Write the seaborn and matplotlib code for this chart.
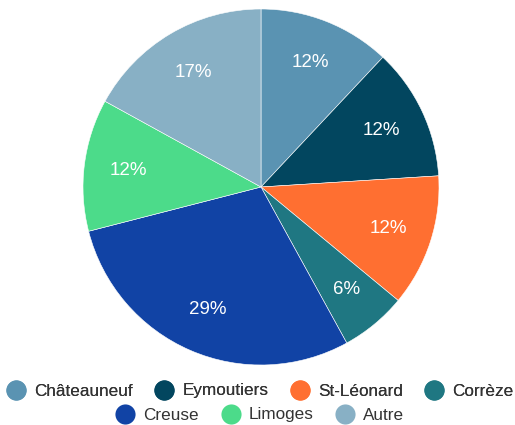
import matplotlib
matplotlib.use('Agg')
import matplotlib.pyplot as plt
from matplotlib.lines import Line2D
import seaborn as sns

LABELS = ['Châteauneuf', 'Eymoutiers', 'St-Léonard', 'Corrèze', 'Creuse', 'Limoges', 'Autre']
VALUES = [12, 12, 12, 6, 29, 12, 17]
COLORS = ['#5a93b2', '#02465f', '#ff6f31', '#1f7782', '#1143a5', '#4cdb8a', '#88b0c5']

sns.set_theme(style='white')
plt.rcParams['font.family'] = ['Liberation Sans', 'DejaVu Sans']
palette = sns.color_palette(COLORS)

W, H = 515, 425
fig = plt.figure(figsize=(W / 100, H / 100), dpi=100)
cx, cy, r = 261, 187, 178
ax = fig.add_axes([(cx - r) / W, (H - cy - r) / H, 2 * r / W, 2 * r / H])
ax.pie(VALUES, colors=palette, startangle=90, counterclock=False,
       autopct=lambda p: f'{p:.0f}%', pctdistance=0.75,
       wedgeprops=dict(edgecolor='white', linewidth=0.4),
       textprops=dict(color='white', fontsize=13.5))
ax.set_xlim(-1, 1)
ax.set_ylim(-1, 1)
ax.set_aspect('equal')
ax.axis('off')

handles = [Line2D([], [], marker='o', linestyle='', markersize=14.5,
                  markerfacecolor=c, markeredgewidth=0) for c in palette]

legend_kw = dict(frameon=False, fontsize=12.3, handlelength=1.1, handletextpad=0.5,
                 columnspacing=1.3, borderpad=0, borderaxespad=0, labelcolor='#333333',
                 loc='center')
leg1 = fig.legend(handles[:4], LABELS[:4], ncol=4, bbox_to_anchor=(260 / W, 1 - 391 / H), **legend_kw)
fig.add_artist(leg1)
fig.legend(handles[4:], LABELS[4:], ncol=3, bbox_to_anchor=(260 / W, 1 - 415 / H), **legend_kw)

fig.savefig('out.png', dpi=100, facecolor='white')
